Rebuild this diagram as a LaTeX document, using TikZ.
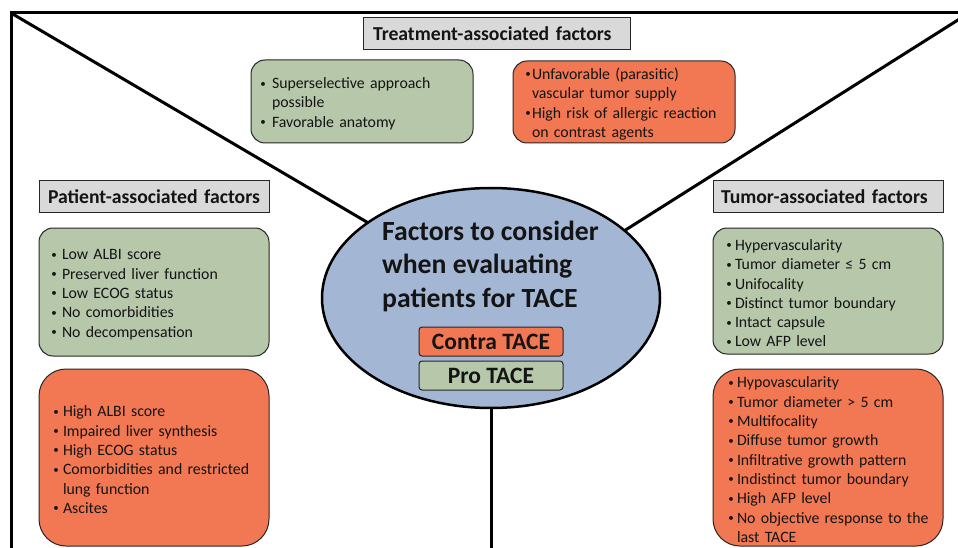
\documentclass[tikz,border=0pt]{standalone}
\usepackage{fontspec}
\setmainfont{Carlito}
\usetikzlibrary{shapes.geometric}
\definecolor{boxgreen}{RGB}{182,199,170}
\definecolor{boxred}{RGB}{242,119,83}
\definecolor{ellblue}{RGB}{163,183,213}
\definecolor{hdrgray}{RGB}{217,217,217}
\definecolor{txt}{RGB}{20,20,20}
\newlength{\bw}
\newcommand{\smallbul}{{\fontsize{11}{11}\selectfont\raisebox{1.6pt}{•}}}
\newcommand{\bitem}[1]{\mbox{\makebox[\bw][l]{\smallbul}#1}}
\newcommand{\citem}[1]{\mbox{\hspace*{\bw}#1}}
\newcommand{\topstrut}{\rule{0pt}{15.5pt}}
\begin{document}
\begin{tikzpicture}[x=1pt,y=-1pt,
  hdr/.style={draw=black!85, line width=1pt, fill=hdrgray, minimum height=32pt, inner ysep=0pt, align=left, text=txt,
    font=\fontsize{19.7}{23}\selectfont\bfseries},
  fbox/.style={draw=black!85, line width=1pt, align=left, inner ysep=0pt, text=txt,
    font=\fontsize{15.8}{19.3}\selectfont},
  gbox/.style={fbox, fill=boxgreen, rounded corners=14pt},
  rbox/.style={fbox, fill=boxred, rounded corners=14pt},
  bigr/.style={fbox, fill=boxred, rounded corners=27pt},
  tag/.style={draw=black!85, line width=1pt, rounded corners=3pt, minimum width=144pt, minimum height=29pt,
    inner sep=0pt, text=txt, font=\fontsize{23.5}{27}\selectfont\bfseries},
  frameline/.style={line width=3pt, black}
]
\useasboundingbox (0,0) rectangle (958,548);
\clip (0,0) rectangle (958,548);
\fill[white] (0,0) rectangle (958,548);

% frame and dividing lines
\coordinate (tl) at (11,13);
\coordinate (tr) at (969,13);
\coordinate (fbr) at (969,570);
\coordinate (aimL) at (491,295);
\coordinate (aimR) at (491,315);
\coordinate (bot) at (491,570);
\draw[frameline] (tl) rectangle (fbr);
\draw[frameline] (tl) -- (aimL);
\draw[frameline] (tr) -- (aimR);

% central ellipse
\node[ellipse, draw=black, line width=2.5pt, fill=ellblue, minimum width=338pt, minimum height=220pt, inner sep=0pt]
  (ell) at (491,298) {};
\draw[frameline] (ell.south) -- (bot);
\node[anchor=west, align=left, text=txt, inner sep=0pt, font=\fontsize{27.7}{33.5}\selectfont\bfseries]
  (title) at (382,266) {Factors to consider\\when evaluating\\patients for TACE};
\node[tag, fill=boxred] (contra) at (491,341.5) {Contra TACE};
\node[tag, fill=boxgreen] (pro) at (491,375.5) {Pro TACE};

% headers
\node[hdr, text width=247pt, inner xsep=10pt] (hT) at (496.5,34) {\mbox{Treatment-associated factors}};
\node[hdr, text width=212pt, inner xsep=9pt] (hP) at (154,197) {\mbox{Patient-associated factors}};
\node[hdr, text width=214pt, inner xsep=8pt] (hU) at (828,197) {\mbox{Tumor-associated factors}};

% treatment boxes
\node[gbox, text width=203.5pt, inner xsep=9.25pt, minimum height=83pt] (tG) at (362,101.5)
  {\setlength{\bw}{11.75pt}\topstrut\bitem{Superselective approach}\\\citem{possible}\\\bitem{Favorable anatomy}};
\node[rbox, text width=197.5pt, inner xsep=12.25pt, minimum height=82pt] (tR) at (624,102)
  {\setlength{\bw}{6.75pt}\topstrut\bitem{Unfavorable (parasitic)}\\\citem{vascular tumor supply}\\\bitem{High risk of allergic reaction}\\\citem{on contrast agents}};

% patient boxes
\node[gbox, text width=205.5pt, inner xsep=12.25pt, minimum height=128pt] (pG) at (154,292)
  {\setlength{\bw}{10.75pt}\topstrut\bitem{Low ALBI score}\\\bitem{Preserved liver function}\\\bitem{Low ECOG status}\\\bitem{No comorbidities}\\\bitem{No decompensation}};
\node[bigr, text width=201.5pt, inner xsep=14.25pt, minimum height=177pt] (pR) at (154,457.5)
  {\setlength{\bw}{9.75pt}\topstrut\bitem{High ALBI score}\\\bitem{Impaired liver synthesis}\\\bitem{High ECOG status}\\\bitem{Comorbidities and restricted}\\\citem{lung function}\\\bitem{Ascites}};

% tumor boxes
\node[gbox, text width=203.5pt, inner xsep=13.25pt, minimum height=126pt] (uG) at (828,291)
  {\setlength{\bw}{8.75pt}\topstrut\bitem{Hypervascularity}\\\bitem{Tumor diameter ≤ 5 cm}\\\bitem{Unifocality}\\\bitem{Distinct tumor boundary}\\\bitem{Intact capsule}\\\bitem{Low AFP level}};
\node[bigr, text width=199.5pt, inner xsep=15.25pt, minimum height=177pt] (uR) at (828,457.5)
  {\setlength{\bw}{8.75pt}\topstrut\bitem{Hypovascularity}\\\bitem{Tumor diameter > 5 cm}\\\bitem{Multifocality}\\\bitem{Diffuse tumor growth}\\\bitem{Infiltrative growth pattern}\\\bitem{Indistinct tumor boundary}\\\bitem{High AFP level}\\\bitem{No objective response to the}\\\citem{last TACE}};
\end{tikzpicture}
\end{document}
